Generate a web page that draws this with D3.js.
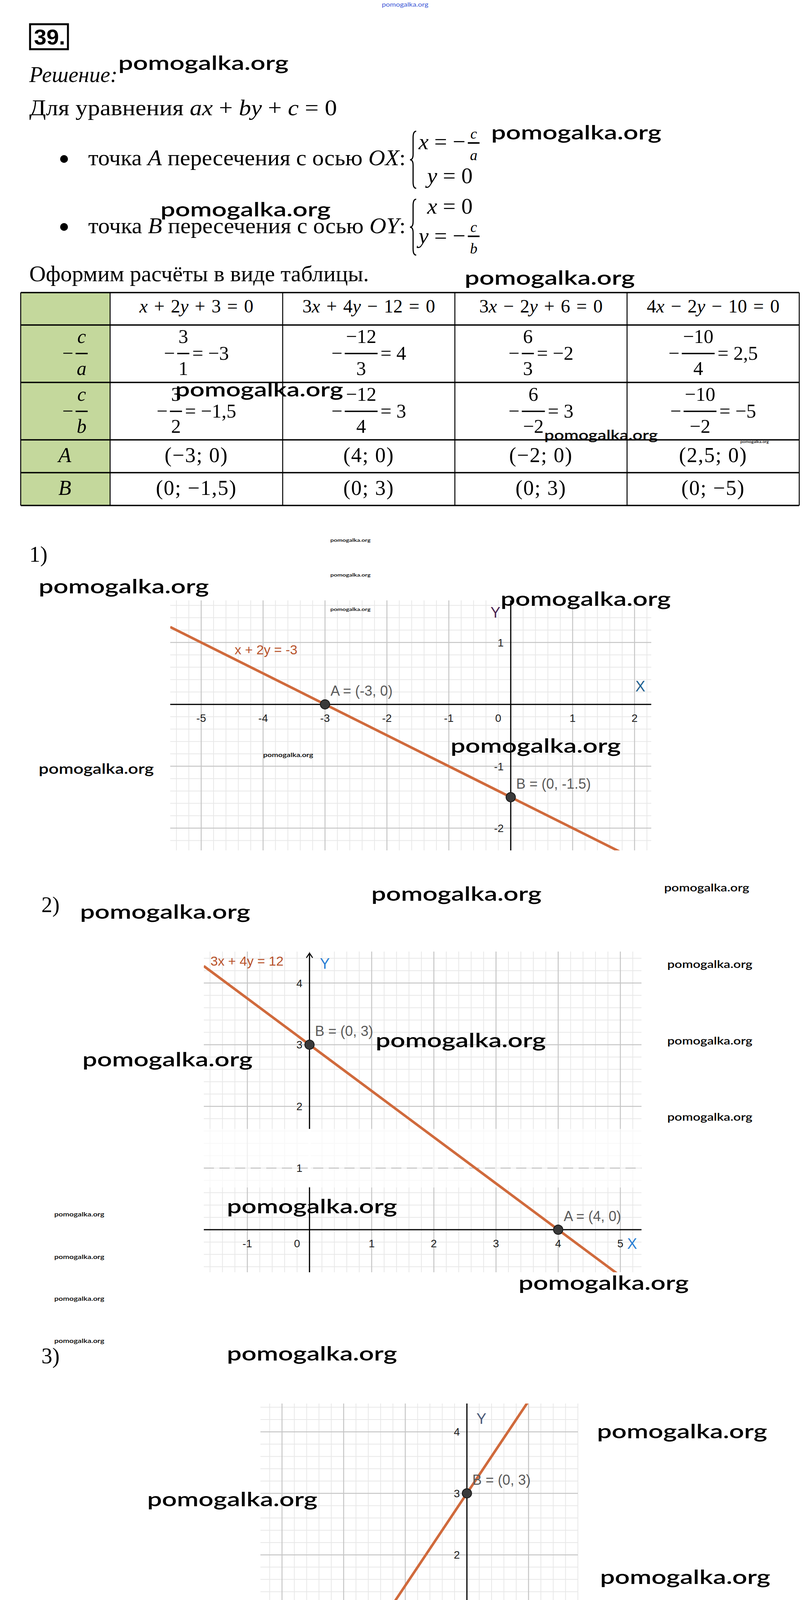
<!DOCTYPE html>
<html>
<head>
<meta charset="utf-8">
<script src="https://cdn.jsdelivr.net/npm/d3@7"></script>
<style>
  body { margin: 0; background: #fff; }
  svg { display: block; }
</style>
</head>
<body>
<svg id="page" width="2072" height="5903"></svg>
<script>
// Table data
const headers = ["x + 2y + 3 = 0", "3x + 4y − 12 = 0", "3x − 2y + 6 = 0", "4x − 2y − 10 = 0"];
const caNum = ["3", "−12", "6", "−10"];
const caDen = ["1", "3", "3", "4"];
const caVal = ["= −3", "= 4", "= −2", "= 2,5"];
const cbNum = ["3", "−12", "6", "−10"];
const cbDen = ["2", "4", "−2", "−2"];
const cbVal = ["= −1,5", "= 3", "= 3", "= −5"];
const pointsA = ["(−3; 0)", "(4; 0)", "(−2; 0)", "(2,5; 0)"];
const pointsB = ["(0; −1,5)", "(0; 3)", "(0; 3)", "(0; −5)"];

// Chart data: lines a*x + b*y = c
const lineLabels = ["x + 2y = -3", "3x + 4y = 12", "3x - 2y = -6", "2x - y = 5"];
const coefA = [1, 3, 3, 2];
const coefB = [2, 4, -2, -1];
const coefC = [-3, 12, -6, 5];
const ptA = [[-3, 0], [4, 0], [-2, 0], [2.5, 0]];
const ptB = [[0, -1.5], [0, 3], [0, 3], [0, -5]];
const ptALabels = ["A = (-3, 0)", "A = (4, 0)", "A = (-2, 0)", "A = (2.5, 0)"];
const ptBLabels = ["B = (0, -1.5)", "B = (0, 3)", "B = (0, 3)", "B = (0, -5)"];
const xDomains = [[-5.5, 2.27], [-1.70, 5.34], [-3.35, 1.80], [-1.86, 4.67]];
const yDomains = [[-2.36, 1.68], [-0.69, 4.51], [-1.63, 4.46], [-5.33, 1.07]];
const xTicks = [[-5, -4, -3, -2, -1, 0, 1, 2], [-1, 0, 1, 2, 3, 4, 5], [-3, -2, -1, 0, 1], [-1, 0, 1, 2, 3, 4]];
const yTicks = [[-2, -1, 1], [1, 2, 3, 4], [-1, 1, 2, 3, 4], [-5, -4, -3, -2, -1]];
const chartNames = ["1)", "2)", "3)", "4)"];

// Layout
const SERIF = "'Liberation Serif', 'Times New Roman', serif";
const SANS = "'Liberation Sans', Arial, sans-serif";
const WMFONT = "Lato, 'Open Sans', sans-serif";
const LINE_COLOR = "#d06a3c";
const chartBoxes = [[436, 1668, 1537, 2177], [522, 1643, 2436, 3257], [667, 1480, 3593, 4552], [597, 1635, 4778, 5794]];
const chartNamePos = [[75, 1438], [106, 2335], [106, 3490], [139, 4758]];
const lineLabelPos = [[601, 1675], [539, 2472], [819, 4475], [1378, 4814]];
const axisXLabelPos = [[1640, 1770], [1619, 3197], [1464, 4360], null];
const axisYLabelPos = [[1269, 1581], [832, 2480], [1233, 3645], null];
const axisColors = [["#23618f", "#4a2450"], ["#2a7fd4", "#2a7fd4"], ["#4b5a78", "#4b5a78"], [null, null]];
const hasArrow = [false, true, false, true];

const svg = d3.select("#page");

// Write text with latin letters in italic
const mathText = (sel, str) => {
  str.match(/[A-Za-z]+|[^A-Za-z]+/g).forEach((p) => {
    sel.append("tspan")
      .attr("font-style", /[A-Za-z]/.test(p) ? "italic" : "normal")
      .text(p);
  });
  return sel;
};

// Fraction with optional prefix and suffix, centered on cx
const fracGroup = (parent, cx, barY, pre, num, den, post, fs) => {
  const grp = parent.append("g").attr("font-family", SERIF).attr("font-size", fs);
  let x = 0;
  if (pre) {
    const t = mathText(grp.append("text").attr("x", 0).attr("y", barY + fs * 0.32), pre);
    x += t.node().getComputedTextLength() + fs * 0.12;
  }
  const numT = mathText(grp.append("text").attr("y", barY - fs * 0.54).attr("text-anchor", "middle"), num);
  const denT = mathText(grp.append("text").attr("y", barY + fs * 1.1).attr("text-anchor", "middle"), den);
  const w = Math.max(numT.node().getComputedTextLength(), denT.node().getComputedTextLength()) + fs * 0.12;
  numT.attr("x", x + w / 2);
  denT.attr("x", x + w / 2);
  grp.append("line")
    .attr("x1", x).attr("x2", x + w)
    .attr("y1", barY).attr("y2", barY)
    .attr("stroke", "#000").attr("stroke-width", fs * 0.07);
  x += w;
  if (post) {
    x += fs * 0.15;
    const t = mathText(grp.append("text").attr("x", x).attr("y", barY + fs * 0.32), post);
    x += t.node().getComputedTextLength();
  }
  grp.attr("transform", `translate(${cx - x / 2},0)`);
};

// Curly brace path
const bracePath = (x, y1, y2) => {
  const m = (y1 + y2) / 2, w = 16, h = w / 2;
  return `M${x + w},${y1} Q${x + h},${y1} ${x + h},${y1 + 16} L${x + h},${m - 14} Q${x + h},${m} ${x},${m}` +
    ` Q${x + h},${m} ${x + h},${m + 14} L${x + h},${y2 - 16} Q${x + h},${y2} ${x + w},${y2}`;
};

// ---------- Header text ----------
svg.append("rect").attr("x", 77).attr("y", 62).attr("width", 97).attr("height", 64)
  .attr("fill", "none").attr("stroke", "#000").attr("stroke-width", 5);
svg.append("text").attr("x", 87).attr("y", 114)
  .attr("font-family", SANS).attr("font-weight", "bold").attr("font-size", 56)
  .attr("textLength", 80).attr("lengthAdjust", "spacingAndGlyphs").text("39.");

svg.append("text").attr("x", 75).attr("y", 210)
  .attr("font-family", SERIF).attr("font-style", "italic").attr("font-size", 56)
  .attr("textLength", 226).attr("lengthAdjust", "spacingAndGlyphs").text("Решение:");

mathText(svg.append("text").attr("x", 75).attr("y", 295)
  .attr("font-family", SERIF).attr("font-size", 58)
  .attr("textLength", 788).attr("lengthAdjust", "spacingAndGlyphs"), "Для уравнения ax + by + c = 0");

// Bullets
[[423, "точка A пересечения с осью OX:"], [597, "точка B пересечения с осью OY:"]].forEach(([by, str]) => {
  svg.append("circle").attr("cx", 164).attr("cy", by - 16).attr("r", 10).attr("fill", "#000");
  mathText(svg.append("text").attr("x", 226).attr("y", by)
    .attr("font-family", SERIF).attr("font-size", 58)
    .attr("textLength", 813).attr("lengthAdjust", "spacingAndGlyphs"), str);
});

// Systems of equations
svg.append("path").attr("d", bracePath(1050, 336, 482)).attr("fill", "none").attr("stroke", "#000").attr("stroke-width", 3);
svg.append("path").attr("d", bracePath(1050, 510, 653)).attr("fill", "none").attr("stroke", "#000").attr("stroke-width", 3);

const sysFrac = (x0, baseY, lhs, num, den, barY) => {
  const t = mathText(svg.append("text").attr("x", x0).attr("y", baseY)
    .attr("font-family", SERIF).attr("font-size", 58), lhs);
  const fx = x0 + t.node().getComputedTextLength() + 6;
  svg.append("line").attr("x1", fx).attr("x2", fx + 30).attr("y1", barY).attr("y2", barY)
    .attr("stroke", "#000").attr("stroke-width", 4);
  mathText(svg.append("text").attr("x", fx + 15).attr("y", barY - 11).attr("text-anchor", "middle")
    .attr("font-family", SERIF).attr("font-size", 38), num);
  mathText(svg.append("text").attr("x", fx + 15).attr("y", barY + 44).attr("text-anchor", "middle")
    .attr("font-family", SERIF).attr("font-size", 38), den);
};
sysFrac(1072, 382, "x = −", "c", "a", 366);
mathText(svg.append("text").attr("x", 1094).attr("y", 469).attr("font-family", SERIF).attr("font-size", 58), "y = 0");
mathText(svg.append("text").attr("x", 1094).attr("y", 547).attr("font-family", SERIF).attr("font-size", 58), "x = 0");
sysFrac(1072, 623, "y = −", "c", "b", 605);

svg.append("text").attr("x", 75).attr("y", 720)
  .attr("font-family", SERIF).attr("font-size", 58)
  .attr("textLength", 870).attr("lengthAdjust", "spacingAndGlyphs").text("Оформим расчёты в виде таблицы.");

// ---------- Table ----------
const colX = [53, 282, 724, 1165, 1606, 2047];
const rowY = [749, 832, 979, 1126, 1210, 1294];
const table = svg.append("g");
table.selectAll("rect.green").data(d3.range(5)).join("rect")
  .attr("x", colX[0]).attr("y", (d) => rowY[d])
  .attr("width", colX[1] - colX[0]).attr("height", (d) => rowY[d + 1] - rowY[d])
  .attr("fill", "#c4d89c");
table.selectAll("line.h").data(rowY).join("line")
  .attr("x1", colX[0]).attr("x2", colX[5]).attr("y1", (d) => d).attr("y2", (d) => d)
  .attr("stroke", "#000").attr("stroke-width", 3.5);
table.selectAll("line.v").data(colX).join("line")
  .attr("x1", (d) => d).attr("x2", (d) => d).attr("y1", rowY[0]).attr("y2", rowY[5])
  .attr("stroke", "#000").attr("stroke-width", 2.5);

const colC = (i) => (colX[i] + colX[i + 1]) / 2;
headers.forEach((h, i) => {
  mathText(table.append("text").attr("x", colC(i + 1)).attr("y", 800).attr("text-anchor", "middle")
    .attr("font-family", SERIF).attr("font-size", 48).attr("word-spacing", 4), h);
});
fracGroup(table, 192, 905, "−", "c", "a", null, 50);
fracGroup(table, 192, 1053, "−", "c", "b", null, 50);
headers.forEach((h, i) => {
  fracGroup(table, colC(i + 1), 905, "−", caNum[i], caDen[i], caVal[i], 50);
  fracGroup(table, colC(i + 1), 1053, "−", cbNum[i], cbDen[i], cbVal[i], 50);
  table.append("text").attr("x", colC(i + 1)).attr("y", 1183).attr("text-anchor", "middle")
    .attr("font-family", SERIF).attr("font-size", 54).attr("letter-spacing", 2).text(pointsA[i]);
  table.append("text").attr("x", colC(i + 1)).attr("y", 1267).attr("text-anchor", "middle")
    .attr("font-family", SERIF).attr("font-size", 54).attr("letter-spacing", 2).text(pointsB[i]);
});
table.append("text").attr("x", 166).attr("y", 1183).attr("text-anchor", "middle")
  .attr("font-family", SERIF).attr("font-style", "italic").attr("font-size", 54).text("A");
table.append("text").attr("x", 166).attr("y", 1267).attr("text-anchor", "middle")
  .attr("font-family", SERIF).attr("font-style", "italic").attr("font-size", 54).text("B");

// ---------- Charts ----------
chartNames.forEach((name, i) => {
  const [L, R, T, B] = chartBoxes[i];
  const x = d3.scaleLinear().domain(xDomains[i]).range([L, R]);
  const y = d3.scaleLinear().domain(yDomains[i]).range([B, T]);
  const g = svg.append("g");

  svg.append("text").attr("x", chartNamePos[i][0]).attr("y", chartNamePos[i][1])
    .attr("font-family", SERIF).attr("font-size", 56).text(name);

  g.append("clipPath").attr("id", `clip${i}`).append("rect")
    .attr("x", L).attr("y", T).attr("width", R - L).attr("height", B - T);

  // Grid: minor every 0.2, major every 1
  const gx = d3.range(Math.ceil(xDomains[i][0] * 5), Math.floor(xDomains[i][1] * 5) + 1);
  const gy = d3.range(Math.ceil(yDomains[i][0] * 5), Math.floor(yDomains[i][1] * 5) + 1);
  const grid = g.append("g");
  [false, true].forEach((major) => {
    grid.selectAll(null).data(gx.filter((k) => (k % 5 === 0) === major)).join("line")
      .attr("x1", (k) => x(k / 5)).attr("x2", (k) => x(k / 5)).attr("y1", T).attr("y2", B)
      .attr("stroke", major ? "#c6c6c6" : "#e8e8e8").attr("stroke-width", major ? 2.5 : 2);
    grid.selectAll(null).data(gy.filter((k) => (k % 5 === 0) === major)).join("line")
      .attr("y1", (k) => y(k / 5)).attr("y2", (k) => y(k / 5)).attr("x1", L).attr("x2", R)
      .attr("stroke", major ? "#c6c6c6" : "#e8e8e8").attr("stroke-width", major ? 2.5 : 2);
  });

  // Axes
  g.append("line").attr("x1", L).attr("x2", R).attr("y1", y(0)).attr("y2", y(0))
    .attr("stroke", "#000").attr("stroke-width", 3);
  g.append("line").attr("x1", x(0)).attr("x2", x(0)).attr("y1", T + (hasArrow[i] ? 4 : 0)).attr("y2", B)
    .attr("stroke", "#000").attr("stroke-width", 3);
  if (hasArrow[i]) {
    g.append("path")
      .attr("d", `M${x(0) - 8},${T + 16} L${x(0)},${T + 4} L${x(0) + 8},${T + 16}`)
      .attr("fill", "none").attr("stroke", "#000").attr("stroke-width", 2.5);
  }

  // Washed-out band in chart 2
  if (i === 1) {
    g.append("rect").attr("x", L - 6).attr("y", 2890).attr("width", R - L + 6).attr("height", 150)
      .attr("fill", "#fff").attr("opacity", 0.7);
    g.append("rect").attr("x", x(0) - 3).attr("y", 2890).attr("width", 6).attr("height", 148).attr("fill", "#fff");
    g.append("line").attr("x1", L).attr("x2", R).attr("y1", y(1)).attr("y2", y(1))
      .attr("stroke", "#c2c2c2").attr("stroke-width", 2.5).attr("stroke-dasharray", "26,14");
  }

  // Tick labels
  const ticks = g.append("g").attr("font-family", SANS).attr("font-size", 28).attr("fill", "#1a1a1a");
  ticks.selectAll(null).data(xTicks[i]).join("text")
    .attr("x", (d) => (d === 0 ? x(0) - 32 : x(d))).attr("y", y(0) + 45)
    .attr("text-anchor", "middle").text((d) => d);
  ticks.selectAll(null).data(yTicks[i]).join("text")
    .attr("x", x(0) - 18).attr("y", (d) => y(d) + 10)
    .attr("text-anchor", "end").text((d) => d);

  // Axis letters
  if (axisXLabelPos[i]) {
    g.append("text").attr("x", axisXLabelPos[i][0]).attr("y", axisXLabelPos[i][1]).attr("text-anchor", "middle")
      .attr("font-family", SANS).attr("font-size", 38).attr("fill", axisColors[i][0]).text("X");
    g.append("text").attr("x", axisYLabelPos[i][0]).attr("y", axisYLabelPos[i][1]).attr("text-anchor", "middle")
      .attr("font-family", SANS).attr("font-size", 38).attr("fill", axisColors[i][1]).text("Y");
  }

  // Line a*x + b*y = c
  const lineFn = d3.line().x((d) => x(d[0])).y((d) => y(d[1]));
  const ends = xDomains[i].map((xv) => [xv, (coefC[i] - coefA[i] * xv) / coefB[i]]);
  g.append("path").attr("d", lineFn(ends)).attr("clip-path", `url(#clip${i})`)
    .attr("fill", "none").attr("stroke", LINE_COLOR).attr("stroke-width", 6.5);
  g.append("text").attr("x", lineLabelPos[i][0]).attr("y", lineLabelPos[i][1])
    .attr("font-family", SANS).attr("font-size", 34).attr("fill", "#b8522a").text(lineLabels[i]);

  // Intersection points
  [[ptA[i], ptALabels[i]], [ptB[i], ptBLabels[i]]].forEach(([p, lab]) => {
    g.append("circle").attr("cx", x(p[0])).attr("cy", y(p[1])).attr("r", 12)
      .attr("fill", "#3a3a3a").attr("stroke", "#161616").attr("stroke-width", 2);
    g.append("text").attr("x", x(p[0]) + 14).attr("y", y(p[1]) - 22)
      .attr("font-family", SANS).attr("font-size", 36).attr("fill", "#5a5a5a").text(lab);
  });
});

// ---------- Watermarks ----------
const big = [436, 50], mid = [295, 36], sm = [218, 27], xs = [176, 21], tiny = [128, 15], micro = [103, 12];
const marks = [
  [303, 179, big], [1258, 357, big], [411, 554, big], [1190, 729, big],
  [449, 1015, [430, 50]], [1394, 1126, [291, 34]], [1896, 1134, [73, 9]],
  [846, 1387, micro], [846, 1476, micro], [846, 1564, micro],
  [99, 1519, big], [1282, 1551, big], [674, 1938, tiny], [1154, 1927, big], [99, 1981, mid],
  [1701, 2282, sm], [205, 2352, big], [951, 2306, big],
  [1709, 2478, sm], [1709, 2674, sm], [1709, 2869, sm],
  [962, 2681, big], [211, 2730, big], [581, 3106, big], [1328, 3302, big],
  [139, 3114, tiny], [139, 3223, tiny], [139, 3330, tiny], [139, 3438, tiny],
  [581, 3483, big], [1529, 3682, big], [377, 3856, big], [1537, 4055, big], [465, 4233, big],
  [1537, 4428, big], [181, 4593, [292, 36]], [789, 4610, big],
  [1535, 4846, big], [161, 4986, big], [979, 4979, [221, 27]], [1535, 5221, big],
  [951, 5257, xs], [169, 5361, big], [1048, 5459, xs], [1535, 5597, big], [1048, 5675, xs], [293, 5737, big]
];
svg.append("g").selectAll("text").data(marks).join("text")
  .attr("x", (d) => d[0]).attr("y", (d) => d[1])
  .attr("font-family", WMFONT).attr("font-weight", 600)
  .attr("font-size", (d) => d[2][1])
  .attr("textLength", (d) => d[2][0]).attr("lengthAdjust", "spacingAndGlyphs")
  .attr("fill", "#000").text("pomogalka.org");
svg.append("text").attr("x", 978).attr("y", 17).attr("font-family", WMFONT).attr("font-size", 15)
  .attr("textLength", 119).attr("lengthAdjust", "spacingAndGlyphs").attr("fill", "#3b56d6").text("pomogalka.org");
</script>
</body>
</html>
